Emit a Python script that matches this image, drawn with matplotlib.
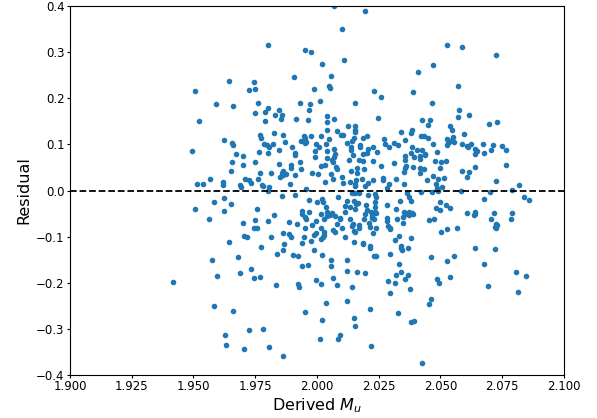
import matplotlib
matplotlib.use('Agg')
import matplotlib.pyplot as plt
import numpy as np

# (derived M_u, residual) pairs
points = [
    (2.007, 0.401), (2.0193, 0.390), (2.010, 0.350), (2.011, 0.283), (1.980, 0.315),
    (1.995, 0.306), (1.9976, 0.300), (2.0527, 0.315), (2.0588, 0.312), (2.0726, 0.295),
    (2.0021, 0.274), (2.0469, 0.273), (2.0056, 0.249), (1.9908, 0.247), (1.9644, 0.238),
    (1.9747, 0.236), (2.005, 0.227), (2.0053, 0.223), (2.0572, 0.226), (2.041, 0.258),
    (1.9507, 0.216), (1.9725, 0.218), (1.975, 0.220), (1.9987, 0.220), (2.0233, 0.216),
    (2.0389, 0.213), (2.0261, 0.203), (2.0012, 0.195), (1.9593, 0.188), (1.966, 0.184),
    (1.9762, 0.189), (2.0153, 0.189), (2.0466, 0.189), (1.9932, 0.191), (1.9802, 0.180),
    (1.9972, 0.187), (2.0575, 0.175), (1.9969, 0.174), (1.9848, 0.175), (1.9788, 0.171),
    (1.9748, 0.169), (1.9829, 0.164), (1.986, 0.163), (2.0615, 0.164), (2.0572, 0.160),
    (2.0039, 0.162), (1.9856, 0.155), (1.9915, 0.155), (2.007, 0.155), (2.0249, 0.158),
    (2.0457, 0.154), (2.0427, 0.153), (1.9523, 0.152), (1.9788, 0.151), (1.9964, 0.153),
    (2.0039, 0.149), (2.0728, 0.149), (2.0697, 0.145), (2.045, 0.142), (2.0127, 0.141),
    (2.0153, 0.139), (2.0541, 0.140), (2.0042, 0.132), (2.0153, 0.132), (2.008, 0.130),
    (2.0387, 0.131), (2.0547, 0.132), (2.0153, 0.127), (2.034, 0.126), (1.9825, 0.125),
    (2.0383, 0.124), (1.9771, 0.120), (1.9862, 0.121), (1.9947, 0.119), (1.9978, 0.118),
    (2.0018, 0.119), (2.0096, 0.120), (2.0105, 0.120), (2.0201, 0.119), (2.0421, 0.119),
    (2.0433, 0.119), (2.0595, 0.123), (2.0551, 0.116), (1.9773, 0.113), (1.9952, 0.114),
    (2.015, 0.114), (2.0188, 0.115), (2.0449, 0.114), (2.0273, 0.111), (1.9622, 0.110),
    (2.0049, 0.111), (2.0527, 0.111), (2.0358, 0.110), (2.0541, 0.108), (1.9936, 0.107),
    (1.9955, 0.106), (2.0141, 0.107), (1.9869, 0.106), (2.0313, 0.104), (1.9953, 0.103),
    (1.9657, 0.103), (2.053, 0.104), (2.0556, 0.106), (2.0275, 0.102), (2.0124, 0.103),
    (2.0624, 0.101), (2.0672, 0.101), (2.0587, 0.100), (2.0472, 0.100), (1.9785, 0.101),
    (1.9822, 0.101), (1.9996, 0.101), (2.0035, 0.101), (1.9796, 0.099), (2.0327, 0.098),
    (2.0527, 0.098), (1.9662, 0.098), (2.0175, 0.098), (2.0607, 0.097), (2.0713, 0.098),
    (1.9807, 0.095), (1.9901, 0.095), (2.0009, 0.095), (2.0138, 0.095), (2.0175, 0.094),
    (2.0227, 0.094), (2.0292, 0.095), (2.0384, 0.095), (2.0613, 0.095), (2.0749, 0.097),
    (2.0639, 0.090), (1.9496, 0.086), (1.9845, 0.089), (2.007, 0.091), (2.0209, 0.090),
    (2.0765, 0.087), (2.0707, 0.088), (2.0405, 0.087), (2.0427, 0.087), (1.991, 0.082),
    (1.9993, 0.085), (2.0041, 0.086), (2.0138, 0.087), (2.0244, 0.083), (2.0486, 0.083),
    (2.0649, 0.085), (2.0641, 0.080), (2.0675, 0.081), (1.9801, 0.082), (1.9765, 0.083),
    (2.0201, 0.082), (2.0383, 0.081), (1.9673, 0.080), (2.0187, 0.080), (1.9912, 0.078),
    (2.0436, 0.080), (2.0439, 0.077), (1.9701, 0.076), (2.0419, 0.076), (2.0075, 0.079),
    (2.0146, 0.077), (2.0356, 0.074), (2.0042, 0.071), (1.9992, 0.072), (2.007, 0.072),
    (2.0395, 0.072), (2.017, 0.066), (2.0356, 0.067), (2.0416, 0.069), (2.013, 0.066),
    (2.0061, 0.066), (2.0185, 0.064), (2.0478, 0.064), (2.0521, 0.063), (2.0504, 0.061),
    (1.9932, 0.062), (1.9657, 0.062), (2.0227, 0.063), (2.0312, 0.059), (1.9751, 0.061),
    (2.0064, 0.062), (2.0765, 0.056), (2.036, 0.054), (2.0259, 0.054), (2.0032, 0.055),
    (2.0018, 0.054), (1.9845, 0.058), (1.9701, 0.056), (1.9897, 0.056), (1.9897, 0.049),
    (2.0356, 0.049), (2.0391, 0.051), (2.0419, 0.048), (2.064, 0.050), (2.0161, 0.049),
    (2.0078, 0.051), (2.0192, 0.046), (2.0082, 0.046), (1.9935, 0.046), (2.0433, 0.047),
    (2.0498, 0.048), (2.0589, 0.042), (2.0617, 0.041), (2.0354, 0.041), (1.9653, 0.042),
    (1.9862, 0.042), (2.0138, 0.042), (1.9813, 0.039), (1.9768, 0.038), (1.9857, 0.038),
    (1.9874, 0.036), (1.9982, 0.038), (2.0162, 0.038), (2.0416, 0.039), (1.9864, 0.033),
    (1.9913, 0.033), (2.0005, 0.035), (2.0056, 0.035), (2.0469, 0.032), (2.0607, 0.030),
    (2.0101, 0.030), (1.985, 0.030), (2.0513, 0.028), (2.0266, 0.028), (2.0266, 0.023),
    (2.0182, 0.026), (2.0322, 0.025), (1.9761, 0.025), (1.9707, 0.025), (1.9565, 0.025),
    (2.0229, 0.023), (2.0066, 0.024), (2.0447, 0.022), (2.049, 0.025), (2.0159, 0.022),
    (1.9727, 0.022), (2.0724, 0.020), (1.9733, 0.017), (1.962, 0.019), (2.0033, 0.019),
    (2.0105, 0.017), (2.0133, 0.018), (2.0207, 0.017), (1.9513, 0.014), (1.9537, 0.015),
    (1.962, 0.012), (1.9779, 0.013), (1.9891, 0.014), (2.0156, 0.014), (2.0292, 0.014),
    (2.0354, 0.014), (2.0484, 0.015), (2.0818, 0.012), (1.9687, 0.011), (1.9782, 0.009),
    (2.0153, 0.009), (2.0193, 0.009), (2.0507, 0.008), (1.9691, 0.007), (1.9808, 0.007),
    (1.9955, 0.004), (2.0283, 0.005), (2.0487, 0.005), (2.0789, 0.002), (1.9801, -0.001),
    (2.042, -0.004), (2.0466, -0.004), (2.049, -0.001), (2.0584, -0.001), (2.0703, -0.003),
    (2.0366, -0.006), (2.0144, -0.006), (2.0156, -0.006), (2.0169, -0.006), (2.0236, -0.008),
    (2.0207, -0.009), (1.9912, -0.010), (2.0084, -0.014), (2.0238, -0.014), (2.0837, -0.014),
    (1.9859, -0.011), (2.0373, -0.014), (1.9622, -0.016), (2.0677, -0.018), (2.086, -0.021),
    (2.015, -0.022), (1.9968, -0.021), (2.0019, -0.019), (2.0124, -0.023), (2.0338, -0.022),
    (2.038, -0.022), (1.9582, -0.025), (2.0, -0.024), (2.0025, -0.024), (2.0234, -0.024),
    (2.0498, -0.025), (2.0167, -0.027), (1.9651, -0.030), (2.0158, -0.030), (2.0524, -0.031),
    (2.0286, -0.032), (2.0115, -0.033), (2.02, -0.032), (2.0234, -0.035), (2.0035, -0.035),
    (2.0136, -0.036), (2.0484, -0.038), (2.0539, -0.039), (1.9507, -0.040), (1.9759, -0.040),
    (2.0319, -0.041), (2.0153, -0.040), (2.0203, -0.043), (1.9622, -0.044), (2.0498, -0.043),
    (2.0221, -0.046), (1.9939, -0.045), (1.997, -0.046), (2.0352, -0.047), (2.0373, -0.047),
    (2.0384, -0.049), (2.0609, -0.048), (2.0719, -0.049), (2.0791, -0.049), (2.064, -0.046),
    (2.0039, -0.046), (2.0113, -0.046), (2.0061, -0.048), (2.0234, -0.047), (2.0358, -0.050),
    (2.0391, -0.051), (2.064, -0.051), (1.9939, -0.050), (2.0016, -0.050), (2.0193, -0.052),
    (2.024, -0.048), (1.9828, -0.054), (2.0637, -0.054), (2.0052, -0.054), (2.0072, -0.055),
    (2.0223, -0.056), (2.0041, -0.056), (2.0349, -0.058), (1.9952, -0.058), (2.0093, -0.059),
    (2.0284, -0.059), (2.0373, -0.054), (2.0225, -0.059), (1.9956, -0.061), (2.0189, -0.061),
    (2.0095, -0.062), (2.0324, -0.061), (1.9562, -0.062), (2.0027, -0.062), (2.0133, -0.062),
    (2.023, -0.062), (2.0706, -0.062), (2.0788, -0.061), (2.0454, -0.064), (2.0474, -0.062),
    (1.9801, -0.066), (1.9996, -0.066), (1.9748, -0.064), (2.0282, -0.067), (2.0348, -0.070),
    (1.9888, -0.069), (1.9701, -0.071), (1.9919, -0.072), (2.008, -0.072), (2.0146, -0.073),
    (2.0212, -0.071), (2.0724, -0.072), (2.073, -0.074), (2.0721, -0.079), (2.0724, -0.082),
    (2.017, -0.075), (1.9982, -0.076), (2.0142, -0.077), (2.0172, -0.082), (2.0216, -0.080),
    (1.9745, -0.081), (2.029, -0.078), (2.0295, -0.082), (2.0529, -0.084), (2.0566, -0.082),
    (1.9756, -0.082), (2.0015, -0.082), (2.0239, -0.082), (2.0101, -0.082), (2.0067, -0.085),
    (1.995, -0.082), (2.0298, -0.083), (2.0152, -0.087), (2.0156, -0.091), (2.0075, -0.090),
    (2.0501, -0.090), (1.9862, -0.093), (2.0229, -0.093), (1.9998, -0.093), (2.0027, -0.090),
    (1.9887, -0.095), (1.9895, -0.100), (1.999, -0.096), (2.0027, -0.097), (1.9705, -0.098),
    (1.9718, -0.101), (1.9813, -0.101), (1.9947, -0.101), (2.0025, -0.100), (2.0113, -0.102),
    (2.0333, -0.098), (2.0383, -0.104), (2.0018, -0.106), (2.0318, -0.108), (2.015, -0.111),
    (1.9644, -0.111), (1.9978, -0.110), (2.0187, -0.113), (1.9868, -0.116), (1.9941, -0.115),
    (2.0185, -0.117), (2.034, -0.120), (2.0214, -0.121), (1.9773, -0.122), (2.0341, -0.125),
    (2.0368, -0.125), (2.0642, -0.124), (2.0217, -0.124), (2.072, -0.127), (2.0345, -0.129),
    (1.999, -0.130), (1.9864, -0.130), (1.9838, -0.138), (2.0021, -0.139), (2.0298, -0.138),
    (1.9905, -0.140), (1.9925, -0.142), (2.0238, -0.142), (2.0231, -0.143), (2.0555, -0.142),
    (1.9682, -0.145), (2.0461, -0.145), (1.9574, -0.150), (2.0056, -0.150), (2.0124, -0.150),
    (2.0526, -0.153), (2.0332, -0.160), (1.9964, -0.161), (1.9939, -0.163), (2.0676, -0.160),
    (2.0058, -0.165), (1.9734, -0.170), (2.0124, -0.174), (2.0163, -0.177), (2.034, -0.176),
    (2.0806, -0.177), (1.969, -0.180), (2.0193, -0.179), (2.0319, -0.183), (2.0371, -0.184),
    (1.9594, -0.186), (2.0541, -0.187), (2.0846, -0.186), (1.9745, -0.189), (1.977, -0.188),
    (2.0066, -0.189), (2.0358, -0.192), (2.0487, -0.193), (1.9996, -0.194), (1.9416, -0.199),
    (2.0289, -0.196), (2.0316, -0.200), (2.0495, -0.200), (2.0016, -0.202), (1.9925, -0.203),
    (2.008, -0.205), (1.9833, -0.206), (2.0692, -0.208), (1.9928, -0.210), (2.0142, -0.210),
    (2.0377, -0.214), (2.0295, -0.223), (2.0813, -0.220), (2.0464, -0.236), (2.0124, -0.239),
    (2.0036, -0.245), (2.0456, -0.247), (1.9585, -0.250), (2.0214, -0.257), (1.9659, -0.261),
    (1.995, -0.264), (2.033, -0.266), (2.015, -0.276), (2.0022, -0.281), (2.0392, -0.283),
    (2.038, -0.285), (2.0153, -0.294), (1.9782, -0.301), (1.9725, -0.304), (2.0093, -0.314),
    (1.9627, -0.314), (2.0087, -0.323), (2.0012, -0.322), (1.9633, -0.336), (2.0219, -0.337),
    (1.9808, -0.339), (1.9705, -0.345), (1.9864, -0.359), (2.0426, -0.375),
]
derived_mu = np.array([p[0] for p in points])
residual = np.array([p[1] for p in points])

x_ticks = [1.900, 1.925, 1.950, 1.975, 2.000, 2.025, 2.050, 2.075, 2.100]
y_ticks = [-0.4, -0.3, -0.2, -0.1, 0.0, 0.1, 0.2, 0.3, 0.4]

fig = plt.figure(figsize=(5.97, 4.18), dpi=100)
ax = fig.add_axes([0.1173, 0.1036, 0.8270, 0.8813])
ax.scatter(derived_mu, residual, s=9, color='#1f77b4', zorder=2)
ax.axhline(0, color='black', linestyle='--', linewidth=1.3, zorder=3)

ax.set_xlim(1.9, 2.1)
ax.set_ylim(-0.4, 0.4)
ax.set_xticks(x_ticks)
ax.set_xticklabels([f"{v:.3f}" for v in x_ticks])
ax.set_yticks(y_ticks)
ax.tick_params(labelsize=8.5, length=2.5, pad=1.5)
ax.set_xlabel(r"Derived $M_u$", fontsize=11.5, labelpad=2)
ax.set_ylabel("Residual", fontsize=11.5, labelpad=3)

plt.savefig("out.png", dpi=100)
plt.close()
